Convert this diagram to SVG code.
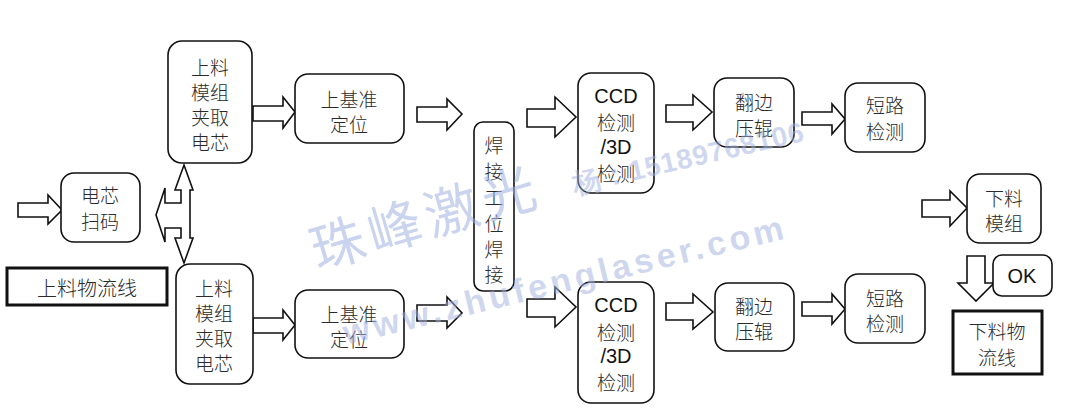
<svg xmlns="http://www.w3.org/2000/svg" width="1072" height="419" viewBox="0 0 1072 419">
<style>
.box{fill:#fff;stroke:#111;stroke-width:1.6}
.flow{fill:#fff;stroke:#111;stroke-width:3}
.arr{fill:#fff;stroke:#111;stroke-width:1.6;stroke-linejoin:miter}
.t{font-family:"Noto Sans CJK SC","Noto Sans CJK JP",sans-serif;font-size:19px;font-weight:300;fill:#2a2a2a;text-anchor:middle;dominant-baseline:central}
.t20{font-size:20px}
.en{font-family:"Liberation Sans",Arial,sans-serif;font-size:20px;fill:#111;text-anchor:middle;dominant-baseline:central}
.wm{font-family:"Noto Sans CJK SC",sans-serif;fill:#9fb0e0;fill-opacity:0.55;text-anchor:middle;dominant-baseline:central}
.wme{font-family:"Liberation Sans",Arial,sans-serif;font-weight:bold;fill:#9fb0e0;fill-opacity:0.5;text-anchor:middle;dominant-baseline:central}
</style>
<rect width="1072" height="419" fill="#fff"/>

<g id="connectors">
<polygon class="arr" points="18,203 48,203 48,195 62,210 48,224 48,217 18,217"/>
<polygon class="arr" points="184,165 193,190 190,190 190,238 193,238 184,263 175,238 181,238 181,228 165,228 165,242 156,215 165,188 165,203 181,203 181,190 175,190"/>
<polygon class="arr" points="253,106 283,106 283,97 295,112 283,128 283,121 253,121"/>
<polygon class="arr" points="253,318 283,318 283,310 295,325 283,340 283,333 253,333"/>
<polygon class="arr" points="417,107 447,107 447,99 462,114 447,130 447,122 417,122"/>
<polygon class="arr" points="417,305 447,305 447,297 462,313 447,328 447,321 417,321"/>
<polygon class="arr" points="527,109 555,109 555,97 576,117 555,137 555,127 527,127"/>
<polygon class="arr" points="527,299 555,299 555,287 576,307 555,327 555,317 527,317"/>
<polygon class="arr" points="666,105 693,105 693,95 712,112 693,130 693,122 666,122"/>
<polygon class="arr" points="666,303 693,303 693,294 713,312 693,329 693,320 666,320"/>
<polygon class="arr" points="802,112 832,112 832,104 845,119 832,134 832,125 802,125"/>
<polygon class="arr" points="802,302 832,302 832,294 845,309 832,324 832,316 802,316"/>
<polygon class="arr" points="922,200 950,200 950,191 967,208 950,226 950,217 922,217"/>
<polygon class="arr" points="967,256 985,256 985,283 994,283 976,301 958,283 967,283"/>
</g>

<g id="scan"><rect class="box" x="61" y="173" width="79" height="69" rx="13"/>
<text class="t"><tspan x="100" y="194">电芯</tspan><tspan x="100" y="220">扫码</tspan></text></g>

<g id="feedline"><rect class="flow" x="7" y="268" width="160" height="37"/>
<text class="t t20" x="87" y="287">上料物流线</text></g>

<g id="load-top"><rect class="box" x="168" y="41" width="84" height="122" rx="14"/>
<text class="t"><tspan x="210" y="66">上料</tspan><tspan x="210" y="91">模组</tspan><tspan x="210" y="116">夹取</tspan><tspan x="210" y="141">电芯</tspan></text></g>

<g id="load-bottom"><rect class="box" x="176" y="264" width="77" height="120" rx="14"/>
<text class="t"><tspan x="214" y="287">上料</tspan><tspan x="214" y="312">模组</tspan><tspan x="214" y="337">夹取</tspan><tspan x="214" y="362">电芯</tspan></text></g>

<g id="ref-top"><rect class="box" x="295" y="74" width="109" height="69" rx="13"/>
<text class="t"><tspan x="349" y="98">上基准</tspan><tspan x="349" y="123">定位</tspan></text></g>

<g id="ref-bottom"><rect class="box" x="295" y="290" width="109" height="68" rx="13"/>
<text class="t"><tspan x="349" y="313">上基准</tspan><tspan x="349" y="338">定位</tspan></text></g>

<g id="weld"><rect class="box" x="474" y="122" width="40" height="169" rx="9"/>
<text class="t"><tspan x="494" y="144">焊</tspan><tspan x="494" y="170">接</tspan><tspan x="494" y="196">工</tspan><tspan x="494" y="222">位</tspan><tspan x="494" y="248">焊</tspan><tspan x="494" y="273">接</tspan></text></g>

<g id="ccd-top"><rect class="box" x="578" y="73" width="76" height="120" rx="13"/>
<text class="en" x="616" y="96">CCD</text><text class="t" x="616" y="121">检测</text><text class="en" x="616" y="147">/3D</text><text class="t" x="616" y="172">检测</text></g>

<g id="ccd-bottom"><rect class="box" x="578" y="282" width="76" height="121" rx="13"/>
<text class="en" x="616" y="305">CCD</text><text class="t" x="616" y="331">检测</text><text class="en" x="616" y="356">/3D</text><text class="t" x="616" y="381">检测</text></g>

<g id="roll-top"><rect class="box" x="714" y="78" width="80" height="69" rx="13"/>
<text class="t"><tspan x="754" y="101">翻边</tspan><tspan x="754" y="127">压辊</tspan></text></g>

<g id="roll-bottom"><rect class="box" x="715" y="283" width="79" height="68" rx="13"/>
<text class="t"><tspan x="754" y="305">翻边</tspan><tspan x="754" y="330">压辊</tspan></text></g>

<g id="short-top"><rect class="box" x="845" y="83" width="80" height="69" rx="13"/>
<text class="t"><tspan x="885" y="104">短路</tspan><tspan x="885" y="130">检测</tspan></text></g>

<g id="short-bottom"><rect class="box" x="845" y="274" width="80" height="69" rx="13"/>
<text class="t"><tspan x="885" y="297">短路</tspan><tspan x="885" y="322">检测</tspan></text></g>

<g id="unload"><rect class="box" x="967" y="174" width="74" height="69" rx="13"/>
<text class="t"><tspan x="1004" y="197">下料</tspan><tspan x="1004" y="222">模组</tspan></text></g>

<g id="ok"><rect class="box" x="993" y="255" width="59" height="41" rx="9"/>
<text class="en" x="1022" y="276">OK</text></g>

<g id="outline"><rect class="flow" x="953" y="311" width="89" height="63"/>
<text class="t"><tspan x="997" y="330">下料物</tspan><tspan x="997" y="356">流线</tspan></text></g>

<g id="watermark">
<text class="wm" x="422" y="215" font-size="54" textLength="232" lengthAdjust="spacing" transform="rotate(-16.4 422 215)">珠峰激光</text>
<text class="wme" x="688" y="158" font-size="28" textLength="236" lengthAdjust="spacing" transform="rotate(-13 688 158)">杨：15189768106</text>
<text class="wme" x="563" y="280" font-size="34" textLength="452" lengthAdjust="spacing" transform="rotate(-13.6 563 280)">www.zhufenglaser.com</text>
</g>
</svg>
